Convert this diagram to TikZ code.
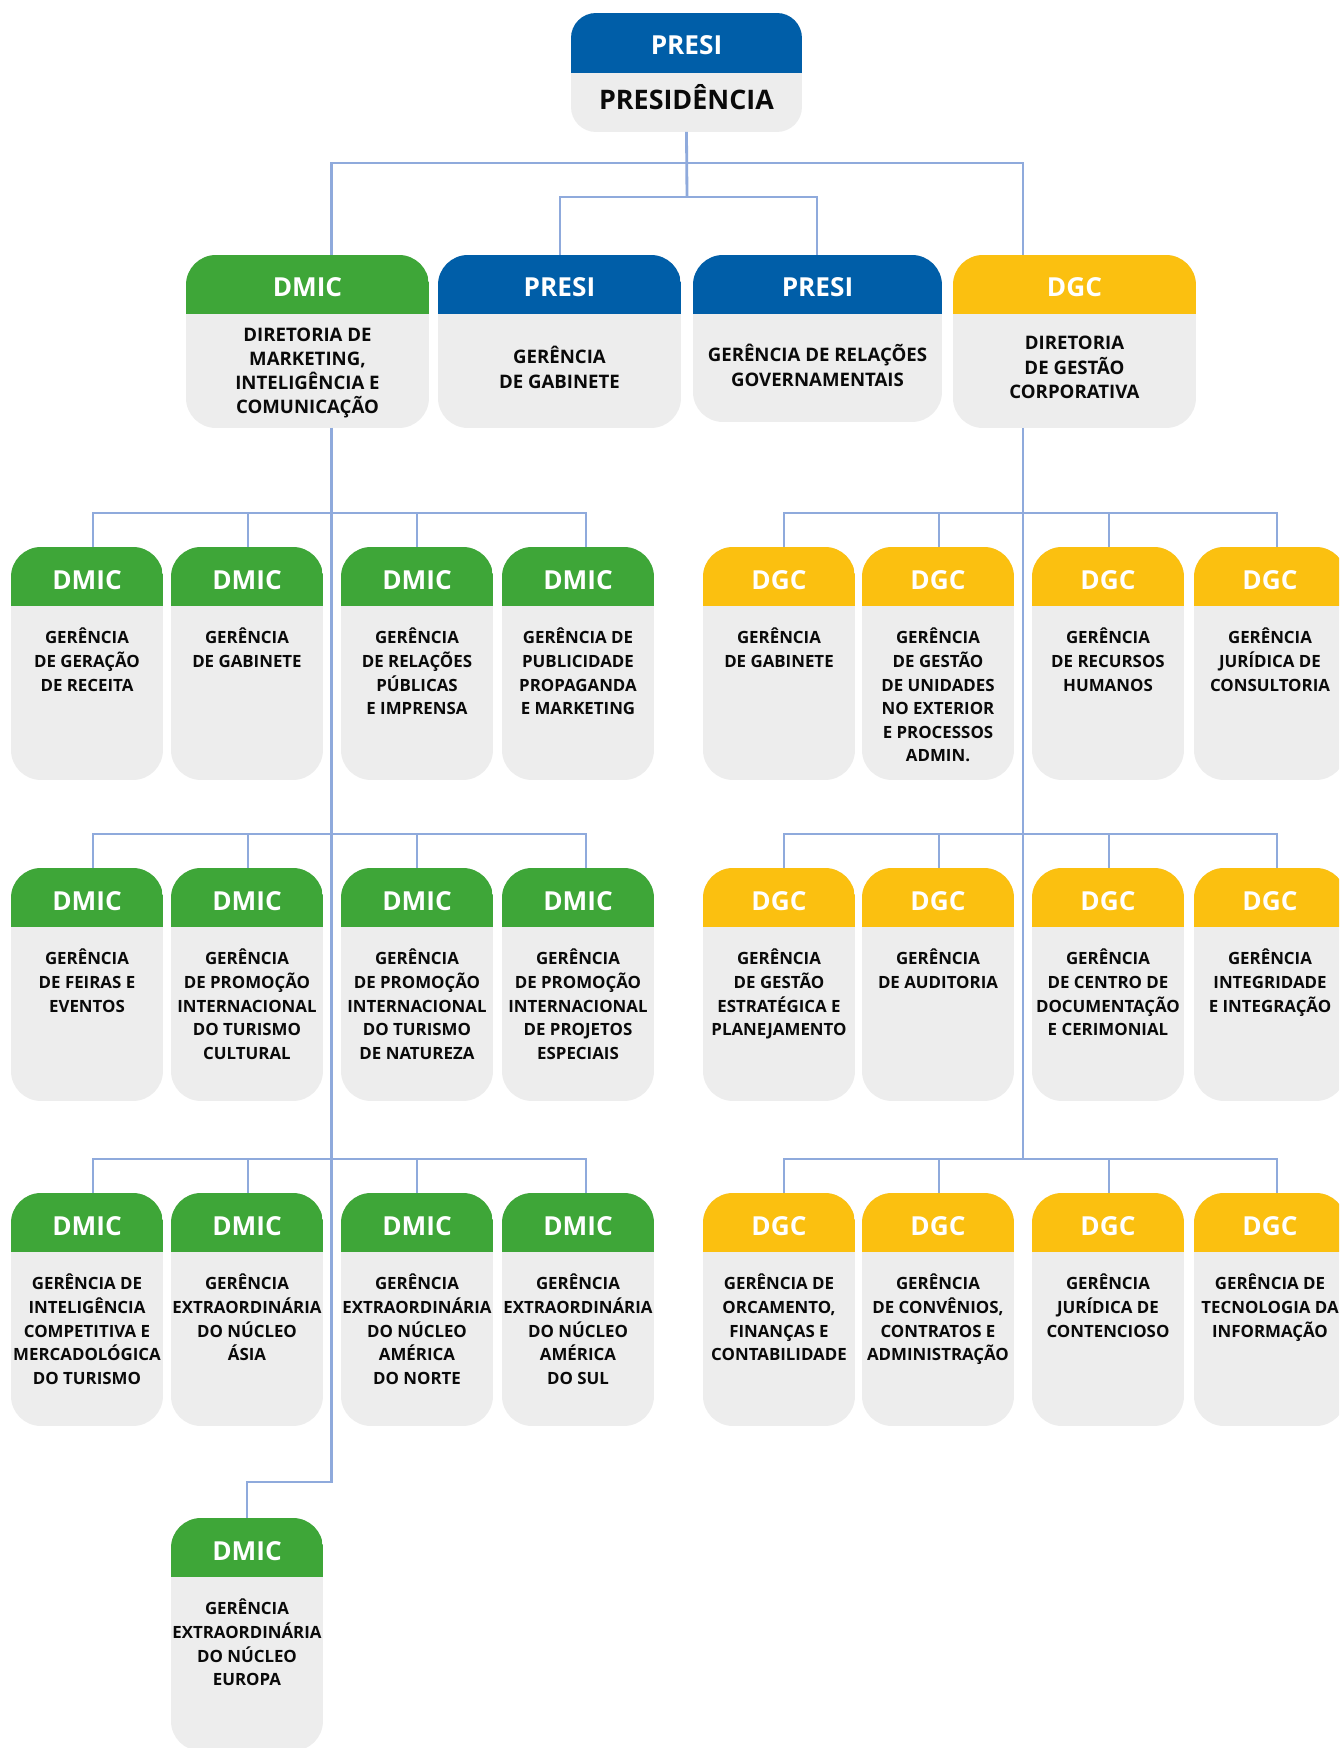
\documentclass[tikz,border=0pt]{standalone}
\usepackage{fontspec}
\setmainfont{Open Sans}
\definecolor{pblue}{RGB}{0,94,168}
\definecolor{dgreen}{RGB}{62,166,56}
\definecolor{dyellow}{RGB}{251,192,16}
\definecolor{boxgray}{RGB}{237,237,237}
\definecolor{connblue}{RGB}{143,170,220}
\definecolor{txt}{RGB}{10,10,10}
\tikzset{
  orgbox/.style={draw=none, fill=boxgray, rounded corners=0.6cm, inner sep=0pt, outer sep=0pt, anchor=north west},
  hdrfill/.style 2 args={path picture={\fill[#1, sharp corners] (path picture bounding box.north west) rectangle ([yshift=-#2]path picture bounding box.north east);}},
  hdrtext/.style={anchor=base, inner sep=0pt, text=white, font=\fontsize{14.9}{16}\selectfont\bfseries},
  bodytext/.style={anchor=north, inner sep=0pt, align=center, text=txt, font=\fontsize{9.6}{13.4}\selectfont\bfseries},
  ltext/.style={anchor=center, inner sep=0pt, align=center, text=txt, font=\fontsize{10.6}{13.8}\selectfont\bfseries},
  conn/.style={draw=connblue, line width=1.6pt},
}
% row box: name, left, top, colour, header, body
\newcommand\rowbox[6]{%
  \node[orgbox, minimum width=3.04cm, minimum height=4.66cm, hdrfill={#4}{1.18cm}] (#1) at (#2,#3) {};
  \node[hdrtext] (#1-h) at ([yshift=-0.84cm]#1.north) {#5};
  \node[bodytext] (#1-b) at ([yshift=-1.58cm]#1.north) {\rule{0pt}{10pt}#6};
}
% level-one box: name, left, top, width, height, colour, header, body, text shift
\newcommand\lonebox[9]{%
  \node[orgbox, minimum width=#4, minimum height=#5, hdrfill={#6}{1.18cm}] (#1) at (#2,#3) {};
  \node[hdrtext] (#1-h) at ([yshift=-0.84cm]#1.north) {#7};
  \node[ltext] (#1-b) at ([yshift=#9]#1.center) {#8};
}
\begin{document}
\begin{tikzpicture}[x=0.02cm, y=-0.02cm]
\useasboundingbox (0,0) rectangle (1339,1748);
\fill[white] (0,0) rectangle (1339,1748);
\clip (0,0) rectangle (1339,1748);

% ---------- top ----------
\node[orgbox, rounded corners=0.5cm, minimum width=4.62cm, minimum height=2.38cm, hdrfill={pblue}{1.2cm}] (top) at (571,13) {};
\node[hdrtext] (top-h) at ([yshift=-0.84cm]top.north) {PRESI};
\node[hdrtext, text=txt, font=\fontsize{15.3}{17}\selectfont\bfseries] (top-b) at ([yshift=-1.94cm]top.north) {PRESIDÊNCIA};

% ---------- level one ----------
\lonebox{dmic}{186}{255}{4.86cm}{3.46cm}{dgreen}{DMIC}{DIRETORIA DE\\MARKETING,\\INTELIGÊNCIA E\\COMUNICAÇÃO}{-0.63cm}
\lonebox{gab}{438}{255}{4.86cm}{3.46cm}{pblue}{PRESI}{GERÊNCIA\\DE GABINETE}{-0.52cm}
\lonebox{grg}{693}{255}{4.98cm}{3.34cm}{pblue}{PRESI}{GERÊNCIA DE RELAÇÕES\\GOVERNAMENTAIS}{-0.54cm}
\lonebox{dgc}{953}{255}{4.86cm}{3.46cm}{dyellow}{DGC}{DIRETORIA\\DE GESTÃO\\CORPORATIVA}{-0.52cm}

% ---------- DMIC rows ----------
\rowbox{a21}{11}{547}{dgreen}{DMIC}{GERÊNCIA\\DE GERAÇÃO\\DE RECEITA}
\rowbox{a22}{171}{547}{dgreen}{DMIC}{GERÊNCIA\\DE GABINETE}
\rowbox{a23}{341}{547}{dgreen}{DMIC}{GERÊNCIA\\DE RELAÇÕES\\PÚBLICAS\\E IMPRENSA}
\rowbox{a24}{502}{547}{dgreen}{DMIC}{GERÊNCIA DE\\PUBLICIDADE\\PROPAGANDA\\E MARKETING}

\rowbox{a31}{11}{868}{dgreen}{DMIC}{GERÊNCIA\\DE FEIRAS E\\EVENTOS}
\rowbox{a32}{171}{868}{dgreen}{DMIC}{GERÊNCIA\\DE PROMOÇÃO\\INTERNACIONAL\\DO TURISMO\\CULTURAL}
\rowbox{a33}{341}{868}{dgreen}{DMIC}{GERÊNCIA\\DE PROMOÇÃO\\INTERNACIONAL\\DO TURISMO\\DE NATUREZA}
\rowbox{a34}{502}{868}{dgreen}{DMIC}{GERÊNCIA\\DE PROMOÇÃO\\INTERNACIONAL\\DE PROJETOS\\ESPECIAIS}

\rowbox{a41}{11}{1193}{dgreen}{DMIC}{GERÊNCIA DE\\INTELIGÊNCIA\\COMPETITIVA E\\MERCADOLÓGICA\\DO TURISMO}
\rowbox{a42}{171}{1193}{dgreen}{DMIC}{GERÊNCIA\\EXTRAORDINÁRIA\\DO NÚCLEO\\ÁSIA}
\rowbox{a43}{341}{1193}{dgreen}{DMIC}{GERÊNCIA\\EXTRAORDINÁRIA\\DO NÚCLEO\\AMÉRICA\\DO NORTE}
\rowbox{a44}{502}{1193}{dgreen}{DMIC}{GERÊNCIA\\EXTRAORDINÁRIA\\DO NÚCLEO\\AMÉRICA\\DO SUL}

\rowbox{a52}{171}{1518}{dgreen}{DMIC}{GERÊNCIA\\EXTRAORDINÁRIA\\DO NÚCLEO\\EUROPA}

% ---------- DGC rows ----------
\rowbox{g21}{703}{547}{dyellow}{DGC}{GERÊNCIA\\DE GABINETE}
\rowbox{g22}{862}{547}{dyellow}{DGC}{GERÊNCIA\\DE GESTÃO\\DE UNIDADES\\NO EXTERIOR\\E PROCESSOS\\ADMIN.}
\rowbox{g23}{1032}{547}{dyellow}{DGC}{GERÊNCIA\\DE RECURSOS\\HUMANOS}
\rowbox{g24}{1194}{547}{dyellow}{DGC}{GERÊNCIA\\JURÍDICA DE\\CONSULTORIA}

\rowbox{g31}{703}{868}{dyellow}{DGC}{GERÊNCIA\\DE GESTÃO\\ESTRATÉGICA E\\PLANEJAMENTO}
\rowbox{g32}{862}{868}{dyellow}{DGC}{GERÊNCIA\\DE AUDITORIA}
\rowbox{g33}{1032}{868}{dyellow}{DGC}{GERÊNCIA\\DE CENTRO DE\\DOCUMENTAÇÃO\\E CERIMONIAL}
\rowbox{g34}{1194}{868}{dyellow}{DGC}{GERÊNCIA\\INTEGRIDADE\\E INTEGRAÇÃO}

\rowbox{g41}{703}{1193}{dyellow}{DGC}{GERÊNCIA DE\\ORCAMENTO,\\FINANÇAS E\\CONTABILIDADE}
\rowbox{g42}{862}{1193}{dyellow}{DGC}{GERÊNCIA\\DE CONVÊNIOS,\\CONTRATOS E\\ADMINISTRAÇÃO}
\rowbox{g43}{1032}{1193}{dyellow}{DGC}{GERÊNCIA\\JURÍDICA DE\\CONTENCIOSO}
\rowbox{g44}{1194}{1193}{dyellow}{DGC}{GERÊNCIA DE\\TECNOLOGIA DA\\INFORMAÇÃO}

% ---------- connector x positions ----------
\coordinate (kA) at (331.5,0);
\coordinate (kB) at (560,0);
\coordinate (kC) at (817,0);
\coordinate (kD) at (1023,0);
\coordinate (busA) at (687,163);
\coordinate (busB) at (687,197);
\coordinate (elbow) at (331.5,1482);
\coordinate (dgcend) at (1023,1159.5);
\coordinate (xa1) at (93,0);
\coordinate (xa2) at (248,0);
\coordinate (xa3) at (417,0);
\coordinate (xa4) at (586,0);
\coordinate (xg1) at (784,0);
\coordinate (xg2) at (939,0);
\coordinate (xg3) at (1109,0);
\coordinate (xg4) at (1277,0);

% ---------- connectors ----------
\draw[conn] (top.south) -- (busB);
\draw[conn] (dmic.north -| kA) |- (busA) -| (dgc.north -| kD);
\draw[conn] (gab.north -| kB) |- (busB) -| (grg.north -| kC);

\draw[conn] (dmic.south -| kA) -- (elbow) -| (a52.north);
\draw[conn] (dgc.south -| kD) -- (dgcend);

\foreach \r in {2,3,4}{
  \draw[conn] (a\r1.north -| xa1) -- ++(0,-34) -| (a\r4.north -| xa4);
  \draw[conn] (a\r2.north -| xa2) -- ++(0,-34);
  \draw[conn] (a\r3.north -| xa3) -- ++(0,-34);
  \draw[conn] (g\r1.north -| xg1) -- ++(0,-34) -| (g\r4.north -| xg4);
  \draw[conn] (g\r2.north -| xg2) -- ++(0,-34);
  \draw[conn] (g\r3.north -| xg3) -- ++(0,-34);
}
\end{tikzpicture}
\end{document}
